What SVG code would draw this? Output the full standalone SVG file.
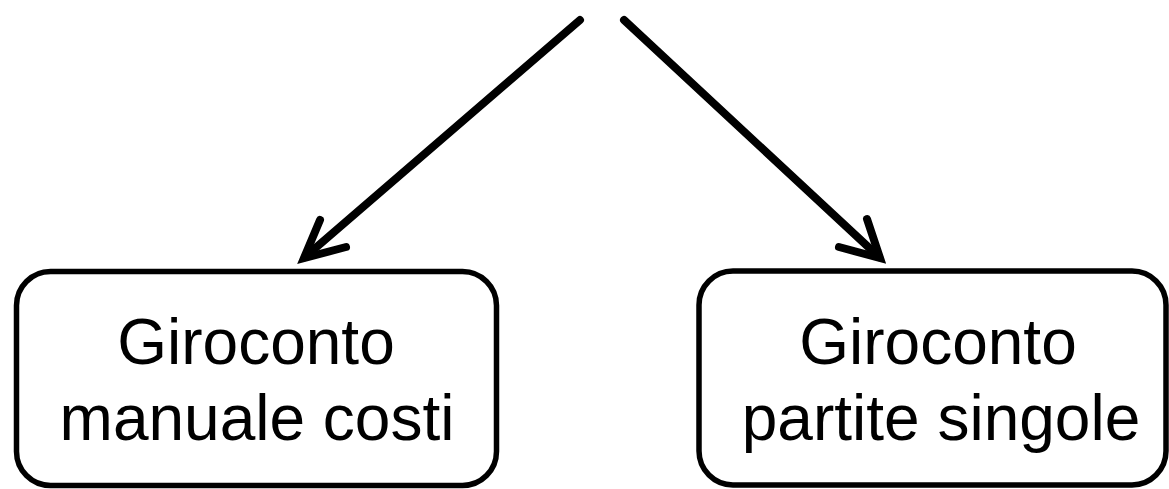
<svg xmlns="http://www.w3.org/2000/svg" width="1169" height="489" viewBox="0 0 1169 489">
<style>
.box{fill:#fff;stroke:#000;stroke-width:5.5}
.lbl{font-family:"Liberation Sans",Arial,sans-serif;font-size:64px;fill:#000;text-anchor:middle}
.edge{fill:none;stroke:#000;stroke-width:8;stroke-linecap:round}
.head{fill:none;stroke:#000;stroke-width:8;stroke-linejoin:miter;stroke-linecap:round}
</style>
<rect width="1169" height="489" fill="#fff"/>
<g id="connectors">
<line class="edge" x1="580" y1="20" x2="305" y2="257"/>
<polyline class="head" points="320,220 304,258 346,247"/>
<line class="edge" x1="624" y1="20" x2="879" y2="257"/>
<polyline class="head" points="867,219 880,258 839,247"/>
</g>
<g id="node-left">
<rect class="box" x="16.5" y="271.5" width="480" height="214" rx="34" ry="34"/>
<text class="lbl" x="256" y="364">Giroconto</text>
<text class="lbl" x="257" y="440">manuale costi</text>
</g>
<g id="node-right">
<rect class="box" x="699" y="271" width="467" height="214" rx="34" ry="34"/>
<text class="lbl" x="938" y="364">Giroconto</text>
<text class="lbl" x="941" y="440">partite singole</text>
</g>
</svg>
